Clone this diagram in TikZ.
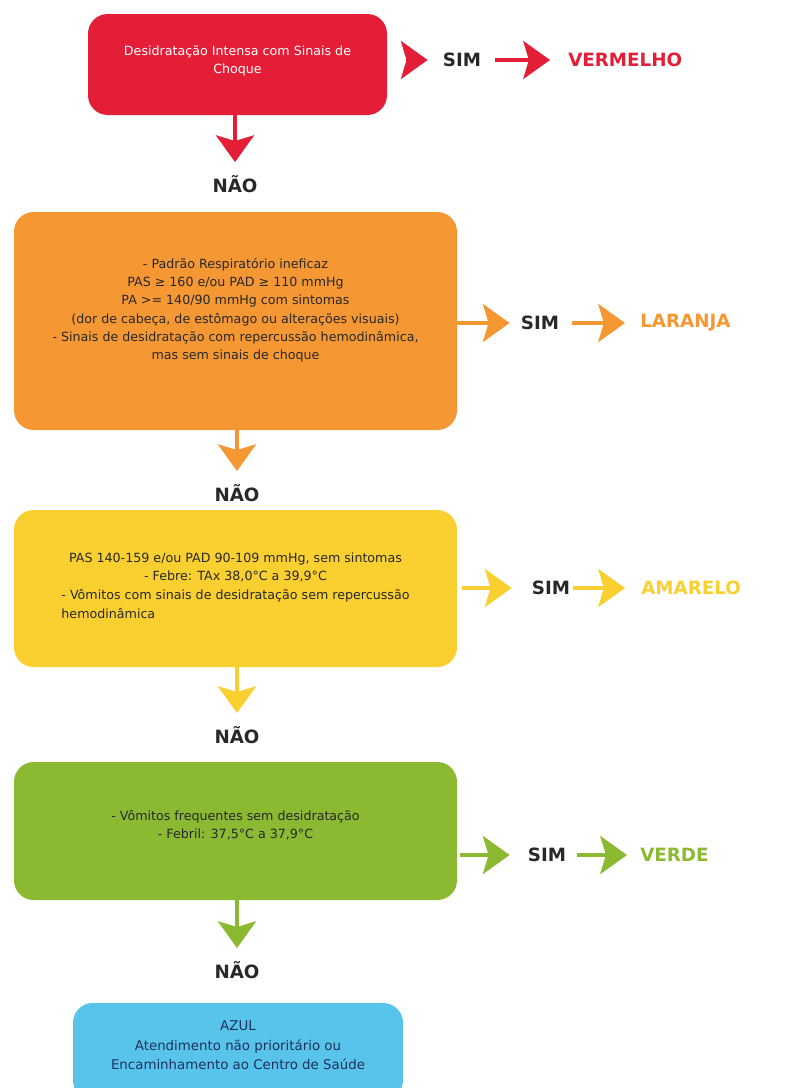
\documentclass[tikz,border=0pt]{standalone}
\usepackage{fontspec}
\setmainfont{DejaVu Sans}
\usetikzlibrary{arrows.meta, positioning}
\definecolor{redbox}{RGB}{228,30,55}
\definecolor{orangebox}{RGB}{245,152,52}
\definecolor{yellowbox}{RGB}{250,208,48}
\definecolor{greenbox}{RGB}{140,185,50}
\definecolor{bluebox}{RGB}{88,196,236}
\definecolor{darktext}{RGB}{40,40,40}
\definecolor{navytext}{RGB}{30,50,90}
\newlength\pxu
\setlength\pxu{0.025cm}

\tikzset{
  box/.style={rounded corners=14pt, align=center, inner sep=0pt,
    font=\fontsize{9}{13}\selectfont, text=darktext},
  flow/.style={line width=2.8pt, -{Stealth[length=19pt, width=27pt, inset=4pt]}},
  naolbl/.style={inner sep=0pt, text=darktext, font=\bfseries\fontsize{13}{15}\selectfont},
  simlbl/.style={inner sep=0pt, text=darktext, font=\bfseries\fontsize{13}{15}\selectfont},
  reslbl/.style={inner sep=0pt, anchor=west, font=\bfseries\fontsize{13}{15}\selectfont},
}

\begin{document}
\begin{tikzpicture}[x=0.025cm, y=-0.025cm]
  \useasboundingbox (0,0) rectangle (800,1088);
  \clip (0,0) rectangle (800,1088);

  % vermelho
  \node[box, fill=redbox, text=white, minimum width=299\pxu, minimum height=101\pxu] (q1) at (237.5,64.5)
    {Desidratação Intensa com Sinais de\\Choque\\[-6pt]};
  \node[simlbl] (sim1) at (462,60) {SIM};
  \node[reslbl, text=redbox] (res1) at (568,60) {VERMELHO};
  \node[naolbl] (nao1) at (235,184) {NÃO};
  \draw[flow, redbox, shorten >=13\pxu] (q1.south -| nao1) -- (nao1.north);
  \draw[flow, redbox, shorten <=19\pxu, shorten >=15\pxu] (q1.east |- sim1) -- (sim1.west);
  \draw[flow, redbox, shorten <=14\pxu, shorten >=18\pxu] (sim1.east) -- (res1.west);

  % laranja
  \node[box, fill=orangebox, minimum width=443\pxu, minimum height=218\pxu] (q2) at (235.5,321)
    {- Padrão Respiratório ineficaz\\
     PAS ≥ 160 e/ou PAD ≥ 110 mmHg\\
     PA >= 140/90 mmHg com sintomas\\
     (dor de cabeça, de estômago ou alterações visuais)\\
     - Sinais de desidratação com repercussão hemodinâmica,\\
     mas sem sinais de choque\\[4pt]};
  \node[simlbl] (sim2) at (540,323) {SIM};
  \node[reslbl, text=orangebox] (res2) at (640,323) {LARANJA};
  \node[naolbl] (nao2) at (237,493) {NÃO};
  \draw[flow, orangebox, shorten >=13\pxu] (q2.south -| nao2) -- (nao2.north);
  \draw[flow, orangebox, shorten >=11\pxu] (q2.east |- sim2) -- (sim2.west);
  \draw[flow, orangebox, shorten <=13\pxu, shorten >=15\pxu] (sim2.east) -- (res2.west);

  % amarelo
  \node[box, fill=yellowbox, minimum width=443\pxu, minimum height=157\pxu] (q3) at (235.5,588.5)
    {PAS 140-159 e/ou PAD 90-109 mmHg, sem sintomas\\
     - Febre: TAx 38,0°C a 39,9°C\\
     \begin{tabular}[t]{@{}l@{}}- Vômitos com sinais de desidratação sem repercussão\\[1pt]
     hemodinâmica\end{tabular}};
  \node[simlbl] (sim3) at (551,588) {SIM};
  \node[reslbl, text=yellowbox] (res3) at (641,588) {AMARELO};
  \node[naolbl] (nao3) at (237,735) {NÃO};
  \draw[flow, yellowbox, shorten >=13\pxu] (q3.south -| nao3) -- (nao3.north);
  \draw[flow, yellowbox, shorten <=5\pxu, shorten >=20\pxu] (q3.east |- sim3) -- (sim3.west);
  \draw[flow, yellowbox, shorten <=3\pxu, shorten >=16\pxu] (sim3.east) -- (res3.west);

  % verde
  \node[box, fill=greenbox, minimum width=443\pxu, minimum height=138\pxu] (q4) at (235.5,831)
    {- Vômitos frequentes sem desidratação\\
     - Febril: 37,5°C a 37,9°C\\[-4pt]};
  \node[simlbl] (sim4) at (547,855) {SIM};
  \node[reslbl, text=greenbox] (res4) at (640,855) {VERDE};
  \node[naolbl] (nao4) at (237,970) {NÃO};
  \draw[flow, greenbox, shorten >=13\pxu] (q4.south -| nao4) -- (nao4.north);
  \draw[flow, greenbox, shorten <=3\pxu, shorten >=18\pxu] (q4.east |- sim4) -- (sim4.west);
  \draw[flow, greenbox, shorten <=11\pxu, shorten >=13\pxu] (sim4.east) -- (res4.west);

  % azul
  \node[box, fill=bluebox, text=navytext, font=\fontsize{9.5}{14}\selectfont,
    minimum width=330\pxu, minimum height=97\pxu] (q5) at (238,1051.5)
    {AZUL\\
     Atendimento não prioritário ou\\
     Encaminhamento ao Centro de Saúde\\[-5pt]};
\end{tikzpicture}
\end{document}
